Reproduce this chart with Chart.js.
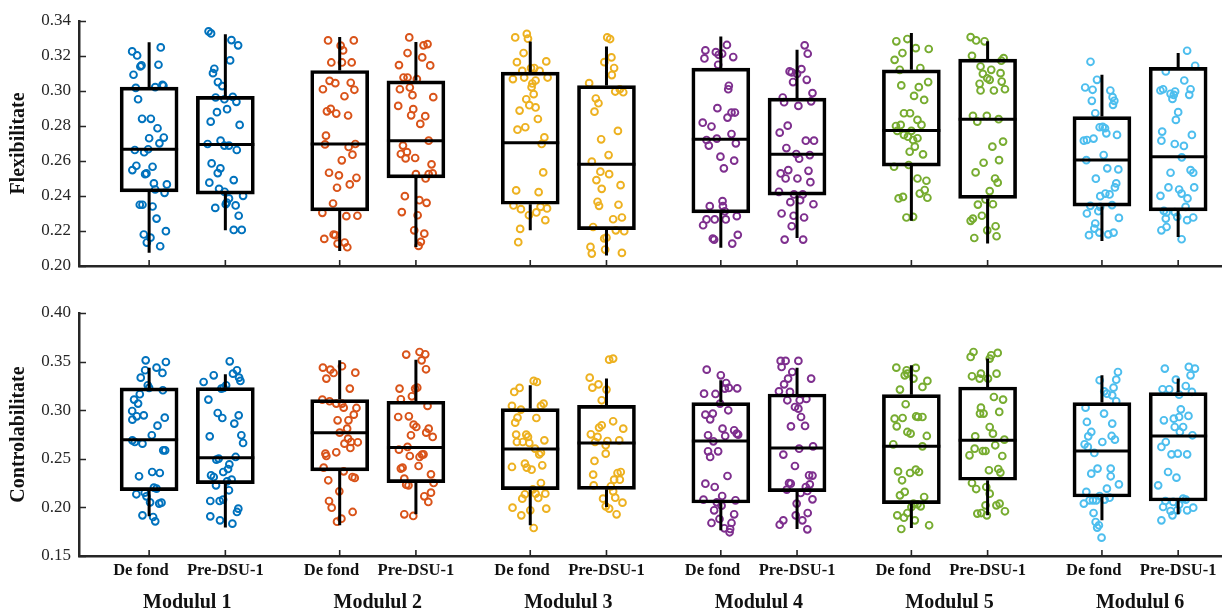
<!DOCTYPE html>
<html>
<head>
<meta charset="utf-8">
<script src="https://cdn.jsdelivr.net/npm/chart.js@4.4.1/dist/chart.umd.min.js"></script>
<style>
  html, body { margin: 0; padding: 0; background: #fff; overflow: hidden; }
  #wrap { position: relative; width: 1222px; height: 609px; }
  .panel { position: absolute; left: 0; }
</style>
</head>
<body>
<div id="wrap">
  <div class="panel" style="top:0"><canvas id="flexChart" width="1222" height="290"></canvas></div>
  <div class="panel" style="top:290px"><canvas id="ctrlChart" width="1222" height="319"></canvas></div>
</div>
<script>
// ---- categories ----
const MODULES = ['Modulul 1', 'Modulul 2', 'Modulul 3', 'Modulul 4', 'Modulul 5', 'Modulul 6'];
const GROUPS = ['De fond', 'Pre-DSU-1'];

// ---- Flexibilitate: box statistics (order: M1 De fond, M1 Pre, M2 De fond, ...) ----
const FLEX_Q1  = [0.2424, 0.2411, 0.2315, 0.2504, 0.2353, 0.2208, 0.2304, 0.2405, 0.2571, 0.2386, 0.2342, 0.2315];
const FLEX_MED = [0.2667, 0.2695, 0.2697, 0.2716, 0.2705, 0.2581, 0.2724, 0.2638, 0.2774, 0.2838, 0.2606, 0.2625];
const FLEX_Q3  = [0.3022, 0.2969, 0.3117, 0.3058, 0.3108, 0.3031, 0.3131, 0.2959, 0.3121, 0.3182, 0.2854, 0.3135];
const FLEX_LO  = [0.2076, 0.2204, 0.2086, 0.2109, 0.2204, 0.2060, 0.2105, 0.2160, 0.2258, 0.2128, 0.2143, 0.2166];
const FLEX_HI  = [0.3278, 0.3324, 0.3308, 0.3280, 0.3283, 0.3255, 0.3312, 0.3236, 0.3331, 0.3284, 0.3093, 0.3217];

// ---- Flexibilitate: individual subjects ----
const FLEX_VALUES = [
  [.3226,.3203,.3249,.3140,.3146,.3150,.3093,.3018,.3022,.3035,.3030,.2953,.2841,.2841,.2787,.2730,.2734,.2701,.2663,.2650,.2667,.2548,.2573,.2525,.2529,.2567,.2472,.2437,.2466,.2418,.2350,.2350,.2340,.2271,.2199,.2180,.2134,.2162,.2113],
  [.3341,.3329,.3291,.3261,.3175,.3127,.3102,.3051,.3028,.2963,.2953,.2966,.2938,.2825,.2879,.2896,.2806,.2716,.2688,.2688,.2697,.2663,.2586,.2558,.2531,.2476,.2441,.2424,.2491,.2386,.2363,.2353,.2346,.2401,.2332,.2287,.2206,.2206],
  [.3289,.3289,.3259,.3232,.3163,.3163,.3163,.3058,.3045,.3047,.3007,.3010,.2970,.2884,.2898,.2871,.2860,.2745,.2695,.2680,.2697,.2636,.2604,.2533,.2518,.2504,.2466,.2447,.2357,.2304,.2285,.2287,.2155,.2180,.2128,.2134,.2107,.2176],
  [.3306,.3261,.3268,.3217,.3192,.3146,.3148,.3077,.3077,.3068,.3010,.3020,.2976,.2965,.2915,.2896,.2861,.2856,.2812,.2716,.2688,.2640,.2651,.2615,.2617,.2581,.2525,.2525,.2529,.2500,.2399,.2376,.2361,.2308,.2290,.2204,.2185,.2138,.2115],
  [.3306,.3326,.3299,.3217,.3165,.3169,.3115,.3131,.3131,.3115,.3068,.3077,.3060,.3077,.3043,.3022,.2982,.2953,.2919,.2906,.2888,.2840,.2779,.2793,.2735,.2697,.2535,.2432,.2422,.2346,.2325,.2290,.2306,.2338,.2329,.2262,.2212,.2136],
  [.3306,.3297,.3165,.3192,.3131,.3091,.3045,.2997,.3010,.2993,.2957,.2930,.2882,.2772,.2724,.2634,.2596,.2539,.2525,.2491,.2462,.2441,.2367,.2344,.2350,.2267,.2277,.2223,.2204,.2199,.2157,.2162,.2109,.2071,.2094,.2075],
  [.3232,.3186,.3222,.3207,.3213,.3263,.3194,.3150,.3030,.3010,.2902,.2877,.2877,.2848,.2819,.2797,.2720,.2688,.2728,.2754,.2701,.2625,.2602,.2558,.2371,.2342,.2313,.2342,.2285,.2266,.2266,.2266,.2233,.2157,.2151,.2178,.2128],
  [.3261,.3213,.3112,.3106,.3098,.3125,.3051,.3064,.2988,.2963,.2936,.2915,.2941,.2802,.2762,.2674,.2716,.2716,.2640,.2613,.2634,.2529,.2548,.2500,.2500,.2544,.2479,.2424,.2409,.2409,.2365,.2376,.2353,.2300,.2287,.2277,.2227,.2151,.2151],
  [.3284,.3297,.3245,.3240,.3178,.3217,.3121,.3131,.3051,.3032,.3022,.2972,.2949,.2873,.2873,.2835,.2806,.2800,.2806,.2772,.2772,.2749,.2739,.2720,.2730,.2682,.2653,.2638,.2567,.2577,.2500,.2487,.2434,.2414,.2390,.2386,.2395,.2277,.2281],
  [.3308,.3289,.3284,.3201,.3173,.3188,.3140,.3121,.3098,.3102,.3073,.3064,.3041,.3054,.3010,.3003,.3003,.2858,.2825,.2858,.2839,.2682,.2711,.2590,.2605,.2535,.2500,.2476,.2428,.2380,.2351,.2353,.2287,.2258,.2271,.2204,.2227,.2170,.2160],
  [.3167,.3064,.3020,.3007,.3003,.2944,.2965,.2944,.2921,.2873,.2793,.2795,.2787,.2758,.2749,.2716,.2720,.2728,.2605,.2634,.2558,.2552,.2499,.2472,.2449,.2399,.2414,.2409,.2338,.2348,.2344,.2300,.2313,.2243,.2275,.2214,.2176,.2191,.2181,.2191],
  [.3230,.3144,.3112,.3060,.3003,.3010,.2984,.2955,.2978,.2997,.2978,.3010,.2879,.2835,.2768,.2716,.2749,.2697,.2686,.2621,.2533,.2548,.2533,.2449,.2437,.2414,.2449,.2386,.2401,.2338,.2315,.2306,.2308,.2281,.2271,.2262,.2277,.2223,.2204,.2153]
];
// horizontal scatter of each subject around its box, in x-axis units
const FLEX_JITTER = [
  [-.89,-.63,.61,-.46,-.40,.49,-.82,-.70,.32,.70,.75,-.58,-.37,.09,.44,0,.77,.54,-.75,-.26,-.05,-.88,-.67,-.21,-.14,.18,.25,.32,.93,.81,-.49,-.35,.18,.39,.88,-.28,-.12,.07,.58],
  [-.88,-.75,.32,.67,.25,-.58,-.65,-.39,-.16,-.51,-.05,.39,.58,-.77,-.44,.09,.75,-.25,-.05,.19,-.93,.60,-.72,-.26,-.40,-.84,-.33,-.04,.44,.19,.07,.02,.54,.93,-.53,.70,.44,.86],
  [-.61,.74,.05,.18,-.44,.12,.63,-.53,-.23,.58,.77,-.88,.25,-.67,-.47,-.18,.44,-.72,-.77,.47,.82,.67,.11,-.56,-.04,.88,.53,-.14,-.35,-.91,.35,.93,-.81,-.32,-.11,.26,.40,-.23],
  [-.35,.40,.61,-.44,.33,.75,-.89,-.65,-.44,.05,-.84,-.32,-.18,.91,-.93,-.14,-.25,.49,.23,.67,-.68,-.79,-.47,-.54,-.04,.82,0,.67,.88,.51,-.58,.18,.56,-.74,.09,-.09,.44,.26,.14],
  [-.79,-.18,-.12,-.35,-.70,.84,-.42,.04,.21,.49,-.91,-.32,.28,.91,.11,.07,.18,-.21,-.05,.28,-.56,.40,-.67,-.26,.74,.60,.68,-.74,.44,-.88,-.49,-.07,.32,.54,.88,.79,-.53,-.63],
  [.04,.19,-.11,.26,.40,.28,-.91,.46,.70,.88,-.56,-.42,-.63,.60,-.28,.11,-.77,-.32,.14,-.53,.74,-.25,-.47,-.39,.63,.35,.81,-.70,.49,.93,-.12,0,-.84,-.77,-.07,.81],
  [-.81,-.86,-.26,-.11,.07,.32,.65,-.14,.42,.39,-.18,.56,.74,.35,-.95,-.49,-.75,-.63,-.21,.56,.79,-.02,.70,.16,.09,.11,.21,-.58,.84,-.75,-.32,.26,-.93,-.42,-.35,.89,.60],
  [.40,.56,-.39,-.28,0,.23,-.21,.51,.81,-.75,-.68,.07,.74,-.49,-.91,-.56,.46,.89,-.04,.11,.67,-.86,-.46,-.60,.02,.60,.70,-.95,-.16,.30,-.35,.16,.86,-.81,-.18,.37,-.28,-.65,.32],
  [-.79,-.21,.23,.91,-.88,-.47,-.61,.47,.88,-.53,.39,.14,.67,-.39,-.07,.32,.53,-.81,-.56,-.74,0,-.39,-.18,.09,.32,.18,-.09,.61,-.91,-.14,.32,.79,.70,.44,.84,-.67,-.44,-.26,.09],
  [-.89,-.60,-.16,-.82,.72,.84,-.37,.19,-.25,.68,-.02,.11,-.42,.74,.91,.33,-.37,-.77,-.54,-.04,.58,.25,.81,-.21,.60,-.63,.39,.53,.11,-.11,-.51,.28,-.30,-.89,-.77,-.02,.42,.47,-.70],
  [-.60,-.26,-.88,-.49,.44,-.53,.56,.65,.58,-.35,-.12,.04,.16,.23,.79,-.95,-.79,-.44,-.82,.09,.28,.86,-.32,.75,.68,-.09,.18,.40,-.09,.53,-.61,-.79,-.19,-.35,.89,-.40,-.68,-.14,.33,.61],
  [.47,.89,-.65,.32,-.93,-.79,-.40,-.30,-.23,-.16,.58,.65,0,-.12,-.84,-.88,.72,-.18,.30,.19,-.40,.65,.79,-.51,.05,.18,.84,.49,-.93,.39,-.75,-.61,-.18,-.05,-.65,.47,.79,-.61,-.88,.18]
];

// ---- Controlabilitate: box statistics ----
const CTRL_Q1  = [0.2172, 0.2244, 0.2375, 0.2255, 0.2183, 0.2186, 0.2045, 0.2162, 0.2039, 0.2279, 0.2107, 0.2066];
const CTRL_MED = [0.2697, 0.2512, 0.2769, 0.2615, 0.2601, 0.2663, 0.2683, 0.2611, 0.2628, 0.2690, 0.2580, 0.2735];
const CTRL_Q3  = [0.3229, 0.3232, 0.3109, 0.3092, 0.3016, 0.3050, 0.3078, 0.3167, 0.3160, 0.3239, 0.3078, 0.3181];
const CTRL_LO  = [0.1908, 0.1792, 0.1816, 0.1929, 0.1816, 0.2004, 0.1764, 0.1778, 0.1788, 0.1918, 0.1867, 0.1929];
const CTRL_HI  = [0.3438, 0.3369, 0.3513, 0.3520, 0.3256, 0.3325, 0.3308, 0.3438, 0.3462, 0.3531, 0.3359, 0.3325];

const CTRL_VALUES = [
  [.3513,.3496,.3438,.3383,.3411,.3335,.3256,.3229,.3205,.3164,.3109,.3068,.2992,.2903,.2947,.2937,.2923,.2841,.2742,.2690,.2673,.2656,.2587,.2587,.2320,.2364,.2354,.2135,.2152,.2114,.2203,.2193,.2052,.2039,.2049,.1918,.1901,.1857],
  [.3503,.3411,.3376,.3335,.3301,.3359,.3290,.3256,.3229,.3222,.3109,.2971,.2920,.2947,.2862,.2742,.2663,.2731,.2491,.2502,.2519,.2443,.2395,.2364,.2330,.2313,.2227,.2285,.2268,.2176,.2066,.2066,.2080,.1953,.1987,.1908,.1867,.1833],
  [.3438,.3417,.3383,.3325,.3452,.3386,.3222,.3109,.3092,.3068,.3068,.3026,.3023,.2954,.2896,.2896,.2810,.2769,.2707,.2656,.2673,.2670,.2611,.2553,.2529,.2567,.2409,.2371,.2313,.2303,.2279,.2165,.2066,.1997,.1953,.1853,.1884],
  [.3572,.3599,.3575,.3513,.3421,.3222,.3222,.3232,.3143,.3112,.3044,.2930,.2937,.2851,.2827,.2810,.2769,.2725,.2742,.2622,.2594,.2529,.2543,.2546,.2519,.2426,.2399,.2409,.2340,.2296,.2227,.2234,.2251,.2152,.2114,.2056,.1929,.1912],
  [.3301,.3290,.3229,.3188,.3044,.3006,.3044,.3068,.2923,.2872,.2920,.2749,.2749,.2725,.2673,.2673,.2663,.2605,.2690,.2563,.2546,.2416,.2450,.2409,.2388,.2433,.2251,.2186,.2141,.2135,.2141,.2097,.2090,.1997,.1970,.1987,.1918,.1788],
  [.3520,.3531,.3335,.3232,.3266,.3212,.3102,.2886,.2752,.2821,.2845,.2810,.2725,.2673,.2690,.2639,.2683,.2553,.2478,.2364,.2354,.2337,.2285,.2285,.2227,.2217,.2165,.2100,.2090,.2049,.1987,.1929,.2011],
  [.3417,.3359,.3280,.3229,.3222,.3225,.3170,.3167,.3068,.2954,.2965,.2906,.2999,.2810,.2735,.2793,.2759,.2749,.2742,.2680,.2577,.2577,.2519,.2323,.2244,.2210,.2117,.2080,.2052,.2073,.2018,.1970,.1840,.1881,.1785,.1778,.1840,.1929,.1744],
  [.3507,.3507,.3507,.3445,.3393,.3325,.3325,.3266,.3194,.3188,.3102,.3116,.3102,.3033,.3016,.2930,.2834,.2838,.2604,.2628,.2543,.2426,.2330,.2327,.2251,.2244,.2183,.2210,.2237,.2148,.2169,.2083,.2039,.1942,.1918,.1867,.1867,.1822,.1774],
  [.3438,.3411,.3435,.3376,.3359,.3325,.3239,.3301,.3212,.3061,.2913,.2920,.2937,.2930,.2930,.2834,.2776,.2759,.2735,.2649,.2628,.2388,.2364,.2354,.2371,.2279,.2159,.2124,.2107,.2039,.2032,.2011,.2004,.1942,.1918,.1894,.1867,.1816,.1778],
  [.3599,.3548,.3565,.3589,.3531,.3376,.3376,.3349,.3325,.3325,.3136,.3109,.3026,.2965,.2965,.2982,.2827,.2759,.2731,.2697,.2604,.2580,.2580,.2639,.2536,.2529,.2382,.2395,.2358,.2251,.2189,.2210,.2039,.2021,.2021,.2141,.1936,.1942,.1960,.1918],
  [.3393,.3308,.3314,.3232,.3194,.3170,.3153,.3092,.3026,.2965,.2862,.2879,.2776,.2731,.2735,.2697,.2649,.2673,.2622,.2560,.2399,.2399,.2347,.2320,.2237,.2193,.2159,.2073,.2073,.2073,.2117,.2080,.2100,.2039,.1942,.1850,.1816,.1792,.1689],
  [.3428,.3445,.3428,.3359,.3314,.3215,.3215,.3160,.3249,.3188,.3009,.2941,.2896,.2913,.2930,.2827,.2827,.2776,.2742,.2673,.2622,.2546,.2553,.2546,.2364,.2306,.2227,.2056,.2066,.2004,.1963,.1918,.2028,.2090,.2080,.1970,.1997,.1867,.1970]
];
const CTRL_JITTER = [
  [-.18,.88,.39,.70,-.21,-.44,-.07,0,.72,-.49,-.79,-.58,-.89,-.88,-.28,-.65,.82,.44,.14,-.88,-.75,-.35,.74,.84,-.53,.16,.56,-.67,-.23,-.14,.25,.39,.05,.53,.65,-.35,.21,.32],
  [.23,.61,.40,.72,.79,-.61,-1.14,.04,-.09,-.21,-.89,-.40,-.16,.70,.47,.84,.93,-.82,-.47,-.35,.54,.21,.14,-.11,-.75,-.61,-.49,.33,.09,.19,-.79,-.30,-.12,.61,.68,-.79,-.28,.37],
  [-.88,-.49,-.32,-.70,.12,.82,.53,-.91,-.53,-.18,.12,.21,.88,.74,-.11,.46,.39,0,.44,.25,.60,.95,.56,-.75,-.70,-.18,-.84,.21,.67,.79,-.60,-.02,-.56,-.42,.68,-.14,.09],
  [-.51,.19,.49,.30,.53,-.86,-.04,.07,-.21,-.79,.61,-.93,-.37,-.12,.02,.67,.54,.88,-.26,-.44,-.89,-.32,.32,.40,.19,.14,-.79,-.70,.79,-.61,-.39,-.51,.93,.79,.44,.65,-.61,-.14],
  [.18,.35,-.56,-.84,-.96,-.49,.56,.70,-.67,-.79,.32,-.74,-.21,-.12,-.70,-.39,-.05,.25,.74,.56,.47,-.96,-.28,-.18,.07,.63,.56,.14,.28,-.28,.79,.42,-.42,-.93,0,.84,-.47,.18],
  [.14,.35,-.88,-.74,-.42,0,-.25,.35,-.82,-.39,-.25,.88,-.47,-.60,.67,-.04,.05,-.04,-.63,.75,.58,-.70,.70,.40,-.67,.23,.35,.46,-.18,.84,.14,.53,-.04],
  [-.74,0,.28,.42,.21,.86,-.88,-.28,-.04,-.81,-.42,-.56,.39,.09,.23,.70,.84,.91,-.67,-.39,-.67,-.14,-.56,.35,-.81,-.32,.07,-.91,-.21,.77,.04,-.35,-.49,-.07,.18,.49,.56,.70,.46],
  [-.86,-.60,.07,-.81,-.25,.74,-.47,-.68,-.95,-.37,.14,.49,-.51,-.11,.07,.21,-.32,.42,.11,.84,-.72,-.11,.63,.81,-.42,-.33,-.54,.46,.67,.19,.54,.81,-.02,.56,-.07,.28,-.72,-.91,.54],
  [-.79,-.25,.23,-.21,-.35,.11,.58,.84,-.60,-.30,-.88,-.46,.25,.35,.58,-.77,-.21,-.04,.81,-.95,.58,.23,.40,-.07,-.70,-.49,-.35,-.60,.67,.11,.32,.49,0,-.21,-.74,-.39,.18,.93,-.53],
  [-.74,-.89,.19,.53,.11,.47,-.35,-.82,-.42,.02,.33,.81,-.35,-.40,-.21,.61,.11,.28,-.65,.88,-.68,-.25,-.11,.40,-.95,.77,.07,.56,.67,-.82,-.60,-.07,.63,.46,-.11,.11,-.54,-.33,.91,-.04],
  [.84,-.12,.75,.61,.12,.26,.54,.75,-.86,.11,.54,-.79,-.56,-.72,.51,.68,-.91,.02,-.74,-.40,.46,-.23,-.56,.46,.89,.26,-.82,-.65,-.47,-.30,-.12,.14,.40,-.95,-.44,-.33,-.16,-.25,-.02],
  [-.70,.56,.88,.65,-.12,-.82,-.47,.05,.40,.72,.14,.54,-.75,-.23,.05,.26,-.18,.09,.75,-.65,-.88,-.35,-.02,.47,-.53,-.09,-1.05,-.26,-.67,-.79,-.40,-.30,.05,.26,.40,.47,.79,-.88,-.05]
];

// ---- look ----
const MODULE_COLORS = ['#0072BD', '#D95319', '#EDB120', '#7E2F8E', '#77AC30', '#4DBEEE'];
const AXIS_COLOR = '#262626';
const SERIF = '"Liberation Serif", "Times New Roman", serif';
const MODULE_STEP = 10;   // x units between modules
const PAIR_GAP = 4;       // x units between De fond and Pre-DSU-1
const X_MIN = -3.68, X_MAX = 56.3;
const BOX_HALF = 1.52;    // half box width in x units (used for median line)

const groupPos = [];
MODULES.forEach((m, k) => GROUPS.forEach((g, j) => groupPos.push(k * MODULE_STEP + j * PAIR_GAP)));
const moduleCenters = MODULES.map((m, k) => k * MODULE_STEP + PAIR_GAP / 2);

// the source figure sets "De fond" slightly left of its tick
const groupLabel = idx => idx % 2 === 0 ? GROUPS[0] + '    ' : GROUPS[1];

// MATLAB-style ticks pointing into the plot
const inwardTicks = {
  id: 'inwardTicks',
  afterDatasetsDraw(chart) {
    const { ctx, chartArea, scales } = chart;
    ctx.save();
    ctx.strokeStyle = AXIS_COLOR;
    ctx.lineWidth = 1.6;
    ctx.beginPath();
    scales.y.ticks.forEach(t => {
      const py = Math.round(scales.y.getPixelForValue(t.value)) + 0.5;
      ctx.moveTo(chartArea.left, py);
      ctx.lineTo(chartArea.left + 7, py);
    });
    scales.x.ticks.forEach(t => {
      const px = scales.x.getPixelForValue(t.value);
      ctx.moveTo(px, chartArea.bottom);
      ctx.lineTo(px, chartArea.bottom - 6);
    });
    ctx.stroke();
    ctx.restore();
  }
};

function buildPanel(canvasId, opt) {
  const datasets = [];

  // box outlines (floating bars q1..q3)
  datasets.push({
    type: 'bar',
    data: groupPos.map((x, i) => ({ x: x, y: [opt.q1[i], opt.q3[i]] })),
    backgroundColor: 'rgba(0,0,0,0)',
    borderColor: '#000',
    borderWidth: 3,
    borderSkipped: false,
    barThickness: 58,
    grouped: false,
    order: 0
  });

  // medians
  const med = [];
  groupPos.forEach((x, i) => {
    med.push({ x: x - BOX_HALF, y: opt.med[i] }, { x: x + BOX_HALF, y: opt.med[i] }, { x: x, y: null });
  });
  // whiskers
  const whisk = [];
  groupPos.forEach((x, i) => {
    whisk.push({ x: x, y: opt.q3[i] }, { x: x, y: opt.hi[i] }, { x: x, y: null });
    whisk.push({ x: x, y: opt.q1[i] }, { x: x, y: opt.lo[i] }, { x: x, y: null });
  });
  [med, whisk].forEach(d => datasets.push({
    type: 'line',
    data: d,
    borderColor: '#000',
    borderWidth: 3,
    borderCapStyle: 'butt',
    pointRadius: 0,
    spanGaps: false,
    fill: false,
    order: 0
  }));

  // subjects
  groupPos.forEach((x, i) => {
    datasets.push({
      type: 'scatter',
      data: opt.values[i].map((v, n) => ({ x: x + opt.jitter[i][n], y: v })),
      pointStyle: 'circle',
      pointRadius: 3.4,
      pointBorderWidth: 1.9,
      pointBorderColor: MODULE_COLORS[Math.floor(i / 2)],
      pointBackgroundColor: 'rgba(255,255,255,0)',
      order: 1
    });
  });

  const scales = {
    x: {
      type: 'linear',
      position: 'bottom',
      min: X_MIN,
      max: X_MAX,
      offset: false,
      weight: 0,
      afterBuildTicks: s => { s.ticks = groupPos.map(v => ({ value: v })); },
      afterFit: s => { s.height = opt.xHeight; },
      grid: { display: true, drawOnChartArea: false, drawTicks: false },
      border: { display: true, color: AXIS_COLOR, width: 2.5 },
      ticks: {
        display: opt.showLabels,
        autoSkip: false,
        maxRotation: 0,
        padding: 5,
        color: '#111',
        font: { family: SERIF, size: 16.5, weight: 'bold' },
        callback: (v, idx) => groupLabel(idx)
      }
    },
    y: {
      type: 'linear',
      min: opt.yMin,
      max: opt.yMax,
      afterFit: s => { s.width = 79; },
      grid: { display: true, drawOnChartArea: false, drawTicks: false },
      border: { display: true, color: AXIS_COLOR, width: 2.5 },
      ticks: {
        stepSize: opt.yStep,
        padding: 8,
        color: AXIS_COLOR,
        font: { family: SERIF, size: 17 },
        callback: v => v.toFixed(2)
      },
      title: {
        display: true,
        text: opt.title,
        color: '#111',
        padding: { top: 7, bottom: 0 },
        font: { family: SERIF, size: 20, weight: 'bold' }
      }
    }
  };
  if (opt.showLabels) {
    scales.x2 = {
      type: 'linear',
      position: 'bottom',
      min: X_MIN,
      max: X_MAX,
      weight: 1,
      afterBuildTicks: s => { s.ticks = moduleCenters.map(v => ({ value: v })); },
      afterFit: s => { s.height = 23; },
      grid: { display: false, drawTicks: false },
      border: { display: false },
      ticks: {
        autoSkip: false,
        maxRotation: 0,
        padding: 5,
        color: '#111',
        font: { family: SERIF, size: 20, weight: 'bold' },
        callback: (v, idx) => MODULES[idx]
      }
    };
  }

  return new Chart(document.getElementById(canvasId), {
    type: 'scatter',
    data: { datasets },
    options: {
      responsive: false,
      animation: false,
      layout: { autoPadding: false, padding: { top: opt.padTop, left: 0, right: 0, bottom: 0 } },
      plugins: { legend: { display: false }, tooltip: { enabled: false } },
      scales
    },
    plugins: [inwardTicks]
  });
}

buildPanel('flexChart', {
  q1: FLEX_Q1, med: FLEX_MED, q3: FLEX_Q3, lo: FLEX_LO, hi: FLEX_HI,
  values: FLEX_VALUES, jitter: FLEX_JITTER,
  yMin: 0.20, yMax: 0.34, yStep: 0.02,
  title: 'Flexibilitate', showLabels: false, xHeight: 24, padTop: 21
});

buildPanel('ctrlChart', {
  q1: CTRL_Q1, med: CTRL_MED, q3: CTRL_Q3, lo: CTRL_LO, hi: CTRL_HI,
  values: CTRL_VALUES, jitter: CTRL_JITTER,
  yMin: 0.15, yMax: 0.40, yStep: 0.05,
  title: 'Controlabilitate', showLabels: true, xHeight: 30, padTop: 23
});
</script>
</body>
</html>
